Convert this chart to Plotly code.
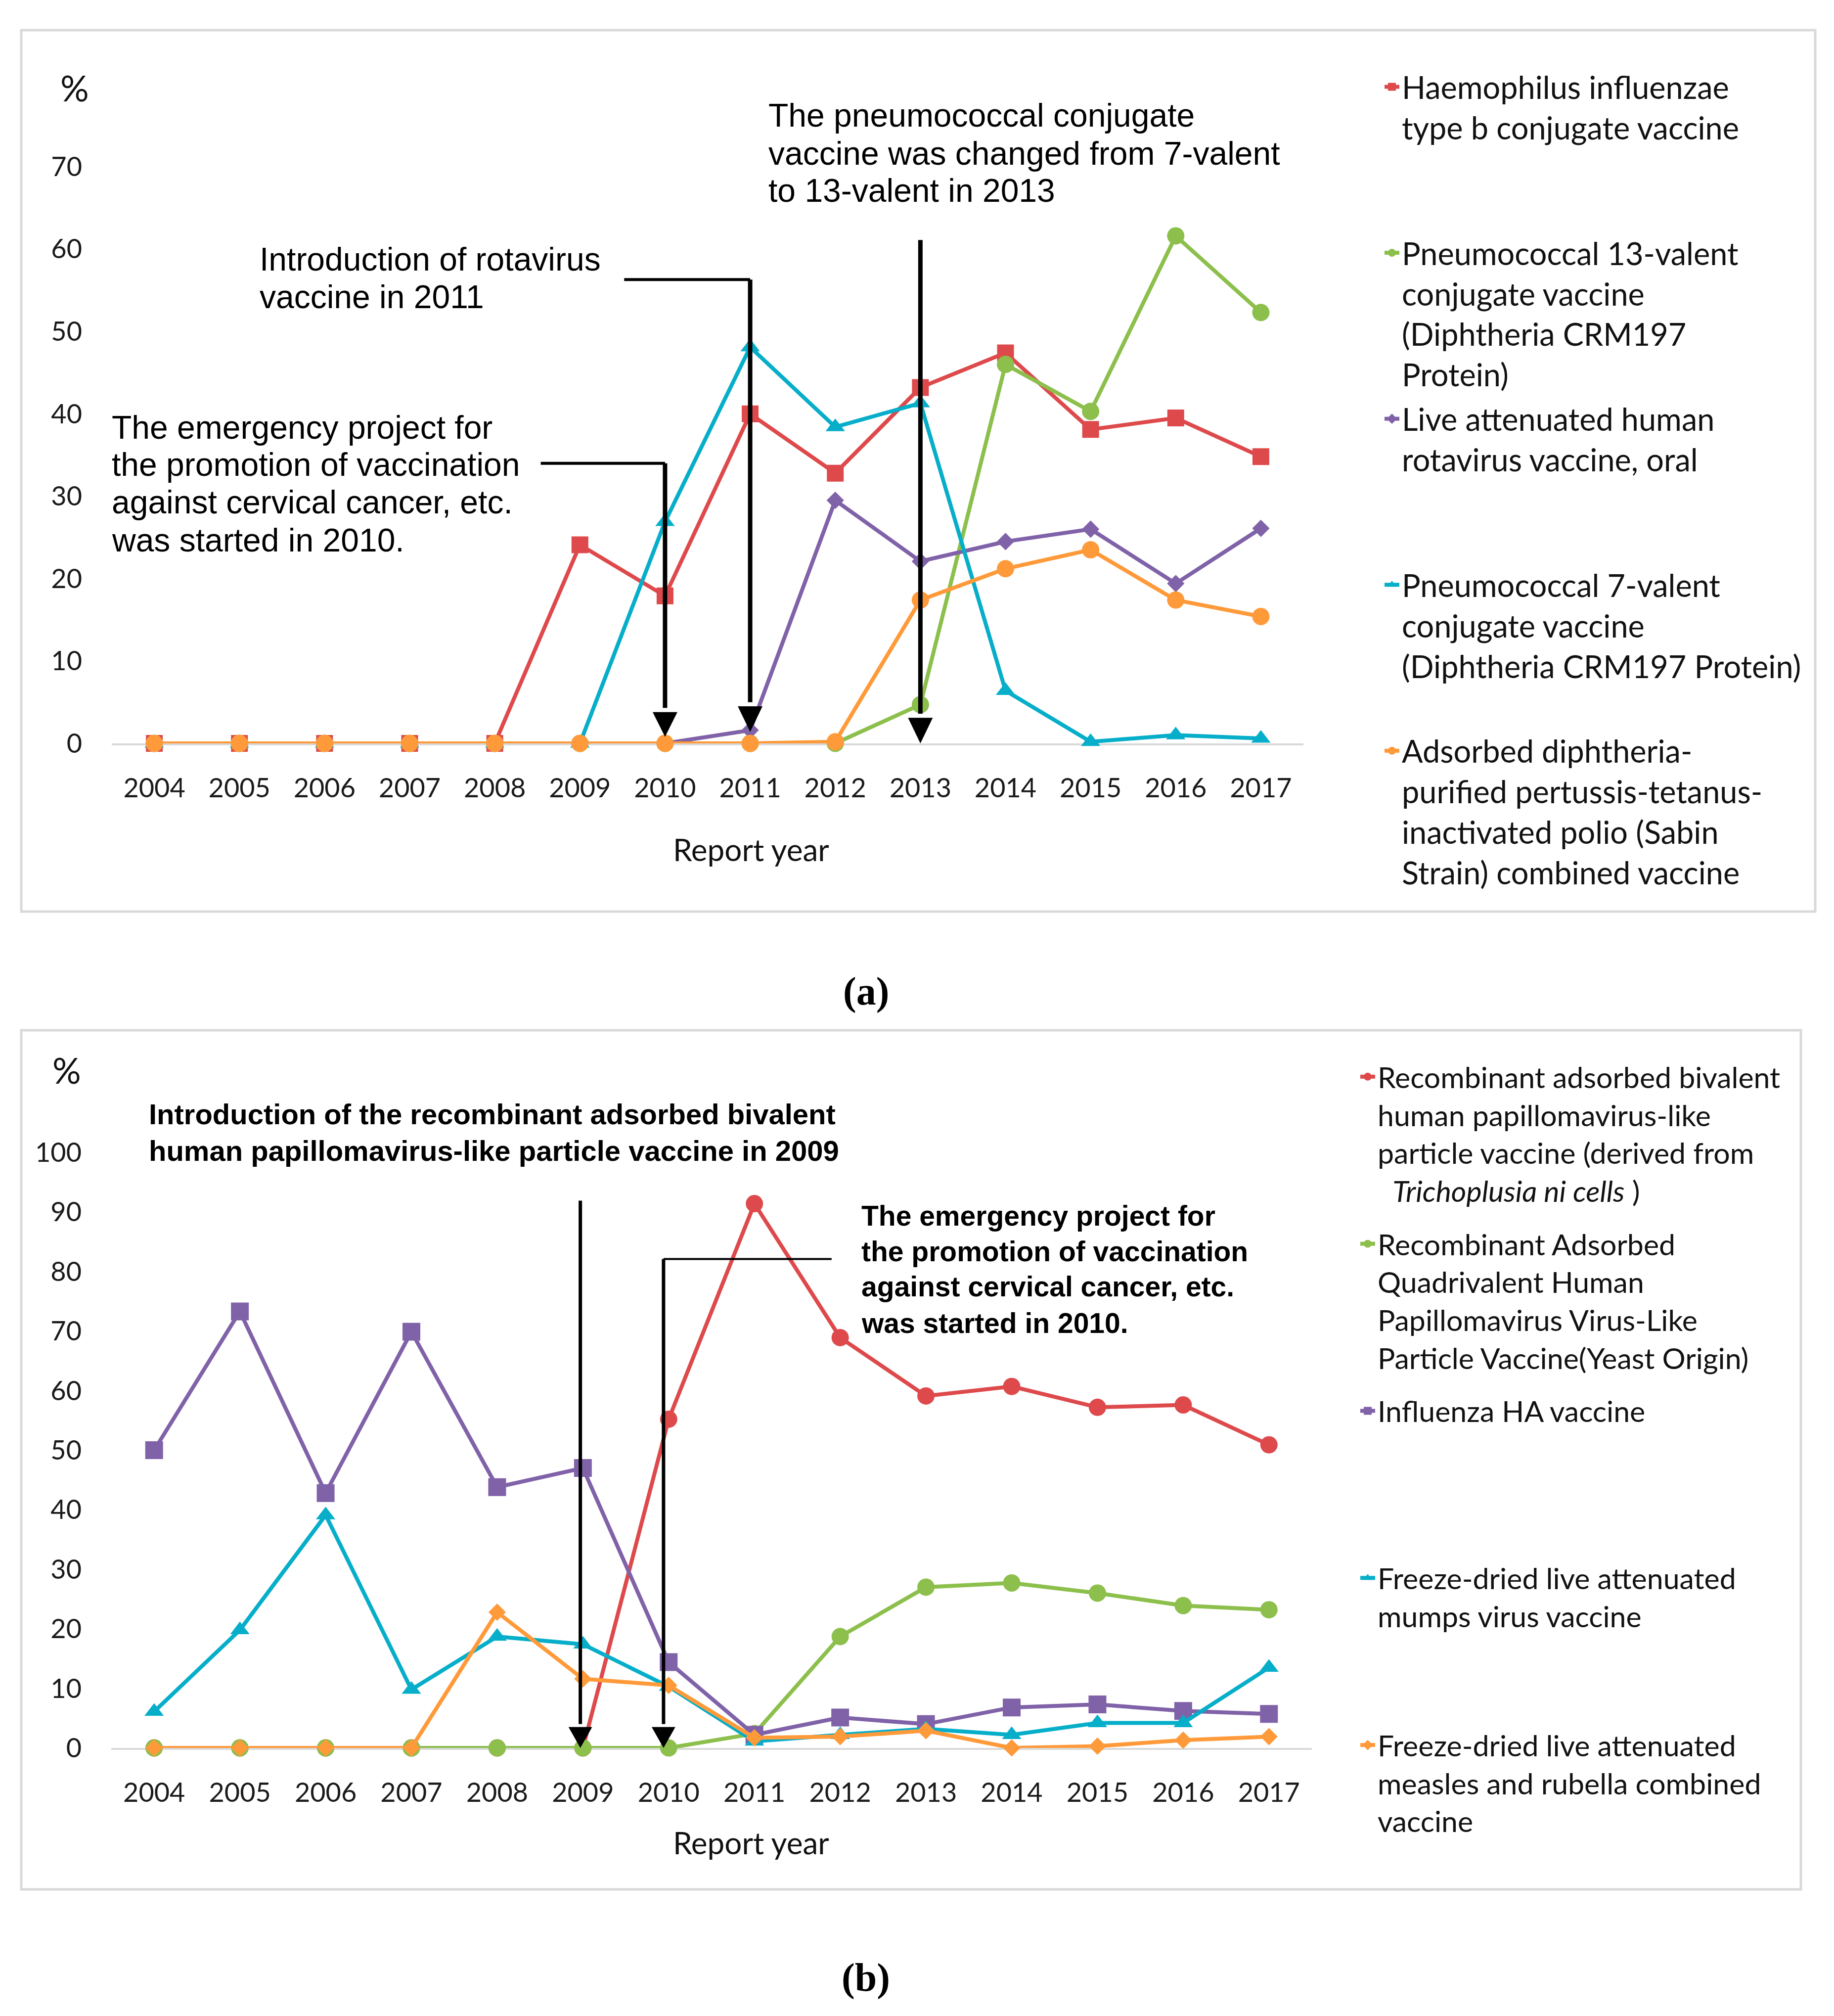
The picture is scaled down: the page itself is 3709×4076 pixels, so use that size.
import plotly.graph_objects as go

W, H = 3709, 4076
OFF = 8  # page body margin compensation

YEARS = list(range(2004, 2018))
YEAR_LABELS = [str(y) for y in YEARS]

# ---- Panel (a) ----
hib = [0, 0, 0, 0, 0, 24.1, 17.9, 40.0, 32.8, 43.2, 47.4, 38.1, 39.5, 34.8]
pcv13 = [0, 0, 0, 0, 0, 0, 0, 0, 0, 4.7, 46.0, 40.3, 61.6, 52.3]
rota = [0, 0, 0, 0, 0, 0, 0, 1.6, 29.5, 22.1, 24.5, 26.0, 19.4, 26.1]
pcv7 = [0, 0, 0, 0, 0, 0, 26.9, 48.1, 38.4, 41.3, 6.4, 0.2, 1.0, 0.6]
dpt_ipv = [0, 0, 0, 0, 0, 0, 0, 0, 0.2, 17.4, 21.2, 23.5, 17.4, 15.4]

# ---- Panel (b) ----
hpv2 = [0, 0, 0, 0, 0, 0, 55.2, 91.4, 68.9, 59.1, 60.7, 57.2, 57.6, 50.9]
hpv4 = [0, 0, 0, 0, 0, 0, 0, 2.4, 18.7, 27.0, 27.7, 26.0, 23.9, 23.2]
flu_ha = [50.0, 73.3, 42.8, 69.9, 43.8, 47.0, 14.4, 2.2, 5.1, 4.0, 6.8, 7.3, 6.2, 5.7]
mumps = [6.1, 19.8, 39.1, 9.8, 18.7, 17.4, 10.3, 1.1, 2.2, 3.2, 2.2, 4.2, 4.2, 13.5]
mr = [0, 0, 0, 0, 22.8, 11.6, 10.5, 1.7, 1.9, 2.9, 0, 0.3, 1.3, 1.9]

RED = "#DE4A4C"
GREEN = "#8CBF4B"
PURPLE = "#8062A8"
CYAN = "#06AEC9"
ORANGE = "#FF9A3A"

TICK_FONT = dict(family="Lato", size=54, color="#1a1a1a")
LEG_FONT_A = dict(family="Lato", size=63, color="#111")
LEG_FONT_B = dict(family="Lato", size=59, color="#111")


def px(x):
    return (x - OFF) / W


def py(y):
    return 1 - (y - OFF) / H


def pad(text, lines):
    n = text.count("<br>") + 1
    return text + "<br> " * (lines - n)


fig = go.Figure()


def add(y, name, color, symbol, size, xa, ya, leg, grp):
    fig.add_trace(go.Scatter(
        x=YEARS, y=y, name=name, mode="lines+markers",
        line=dict(color=color, width=8),
        marker=dict(symbol=symbol, size=size, color=color, line=dict(width=0)),
        xaxis=xa, yaxis=ya, legend=leg, legendgroup=grp, cliponaxis=False,
    ))


add(hib, pad("Haemophilus influenzae<br>type b conjugate vaccine", 4), RED, "square", 34, "x", "y", "legend", "a1")
add(pcv13, pad("Pneumococcal 13-valent<br>conjugate vaccine<br>(Diphtheria CRM197<br>Protein)", 4), GREEN, "circle", 35, "x", "y", "legend", "a2")
add(rota, pad("Live attenuated human<br>rotavirus vaccine, oral", 4), PURPLE, "diamond", 27, "x", "y", "legend", "a3")
add(pcv7, pad("Pneumococcal 7-valent<br>conjugate vaccine<br>(Diphtheria CRM197 Protein)", 4), CYAN, "triangle-up", 34, "x", "y", "legend", "a4")
add(dpt_ipv, pad("Adsorbed diphtheria-<br>purified pertussis-tetanus-<br>inactivated polio (Sabin<br>Strain) combined vaccine", 4), ORANGE, "circle", 35, "x", "y", "legend", "a5")

add(hpv2, pad("Recombinant adsorbed bivalent<br>human papillomavirus-like<br>particle vaccine (derived from<br>  <i>Trichoplusia ni cells</i> )", 4), RED, "circle", 35, "x2", "y2", "legend2", "b1")
add(hpv4, pad("Recombinant Adsorbed<br>Quadrivalent Human<br>Papillomavirus Virus-Like<br>Particle Vaccine(Yeast Origin)", 4), GREEN, "circle", 35, "x2", "y2", "legend2", "b2")
add(flu_ha, pad("Influenza HA vaccine", 4), PURPLE, "square", 36, "x2", "y2", "legend2", "b3")
add(mumps, pad("Freeze-dried live attenuated<br>mumps virus vaccine", 4), CYAN, "triangle-up", 34, "x2", "y2", "legend2", "b4")
add(mr, pad("Freeze-dried live attenuated<br>measles and rubella combined<br>vaccine", 4), ORANGE, "diamond", 27, "x2", "y2", "legend2", "b5")

xcommon = dict(
    range=[2003.5, 2017.5], tickmode="array", tickvals=YEARS, ticktext=YEAR_LABELS,
    showgrid=False, zeroline=False, showline=True, linecolor="#D9D9D9", linewidth=4,
    ticks="", tickfont=TICK_FONT, ticklabelstandoff=40, layer="below traces",
    fixedrange=True, automargin=False,
)
ycommon = dict(
    showgrid=False, zeroline=False, showline=False, ticks="", dtick=10,
    tickfont=TICK_FONT, ticklabelstandoff=59, fixedrange=True, automargin=False,
)

fig.update_layout(
    width=W, height=H,
    margin=dict(l=0, r=0, t=0, b=0, autoexpand=False),
    paper_bgcolor="white", plot_bgcolor="white",
    xaxis=dict(domain=[px(226), px(2636)], anchor="y", **xcommon),
    yaxis=dict(domain=[py(1503), py(337)], anchor="x", range=[0, 70], **ycommon),
    xaxis2=dict(domain=[px(225), px(2653)], anchor="y2", **xcommon),
    yaxis2=dict(domain=[py(3534), py(2330)], anchor="x2", range=[0, 100], **ycommon),
    legend=dict(
        x=px(2795), y=py(128), xanchor="left", yanchor="top",
        font=LEG_FONT_A, valign="top", traceorder="grouped", tracegroupgap=5,
        bgcolor="rgba(0,0,0,0)", itemclick=False,
    ),
    legend2=dict(
        x=px(2746), y=py(2132), xanchor="left", yanchor="top",
        font=LEG_FONT_B, valign="top", traceorder="grouped", tracegroupgap=28,
        bgcolor="rgba(0,0,0,0)", itemclick=False,
    ),
    showlegend=True,
)

# panel boxes
for (x0, y0, x1, y1) in [(43, 61, 3671, 1843), (43, 2083, 3642, 3820)]:
    fig.add_shape(type="rect", xref="paper", yref="paper",
                  x0=px(x0), x1=px(x1), y0=py(y1), y1=py(y0),
                  line=dict(color="#D9D9D9", width=5), fillcolor="rgba(0,0,0,0)", layer="below")


def arrow(xr, yr, x, ytop, yhead, ytip, half, lw):
    fig.add_shape(type="line", xref=xr, yref=yr, x0=x, x1=x, y0=ytop, y1=yhead + 0.5,
                  line=dict(color="black", width=lw))
    fig.add_shape(type="path", xref=xr, yref=yr,
                  path=f"M {x - half},{yhead} L {x + half},{yhead} L {x},{ytip} Z",
                  fillcolor="black", line=dict(width=0))


def hline(xr, yr, xa, xb, y, lw):
    fig.add_shape(type="line", xref=xr, yref=yr, x0=xa, x1=xb, y0=y, y1=y,
                  line=dict(color="black", width=lw))


# panel (a) arrows
hline("x", "y", 2008.54, 2010, 34.0, 6)
arrow("x", "y", 2010, 34.0, 3.8, 0.8, 0.145, 9)
hline("x", "y", 2009.52, 2011, 56.3, 6)
arrow("x", "y", 2011, 56.3, 4.5, 1.4, 0.145, 9)
arrow("x", "y", 2013, 61.1, 3.1, 0.0, 0.145, 9)

# panel (b) arrows
arrow("x2", "y2", 2008.97, 91.9, 3.5, 0.0, 0.138, 7)
hline("x2", "y2", 2009.94, 2011.90, 82.1, 4)
arrow("x2", "y2", 2009.94, 82.1, 3.5, 0.0, 0.138, 7)


def text(x, y, s, font, xanchor="left", yanchor="middle", align="left"):
    fig.add_annotation(xref="paper", yref="paper", x=px(x), y=py(y), text=s,
                       showarrow=False, xanchor=xanchor, yanchor=yanchor, align=align,
                       font=font, borderpad=0)


def block(x, ys, lines, font, bold=False):
    for yy, ln in zip(ys, lines):
        text(x, yy, f"<b>{ln}</b>" if bold else ln, font)


ANN_A = dict(family="Liberation Sans", size=66, color="black")
block(1553, [233, 310, 385],
      ["The pneumococcal conjugate", "vaccine was changed from 7-valent", "to 13-valent in 2013"], ANN_A)
block(524, [524, 600], ["Introduction of rotavirus", "vaccine in 2011"], ANN_A)
block(225, [864, 939, 1015, 1092],
      ["The emergency project for", "the promotion of vaccination",
       "against cervical cancer, etc.", "was started in 2010."], ANN_A)

block(300, [2252, 2326],
      ["Introduction of the recombinant adsorbed bivalent",
       "human papillomavirus-like particle vaccine in 2009"],
      dict(family="Liberation Sans", size=58, color="black"), bold=True)
block(1741, [2458, 2530, 2601, 2675],
      ["The emergency project for", "the promotion of vaccination",
       "against cervical cancer, etc.", "was started in 2010."],
      dict(family="Liberation Sans", size=57, color="black"), bold=True)

PCT = dict(family="Lato", size=72, color="#111")
text(151, 177, "%", PCT, xanchor="center")
text(135, 2163, "%", PCT, xanchor="center")

XT = dict(family="Lato", size=62, color="#111")
text(1519, 1717, "Report year", XT, xanchor="center")
text(1519, 3725, "Report year", XT, xanchor="center")

CAP = dict(family="Liberation Serif", size=80, color="black")
text(1751, 2005, "<b>(a)</b>", CAP, xanchor="center")
text(1751, 3998, "<b>(b)</b>", CAP, xanchor="center")

fig.write_html("out.html")
